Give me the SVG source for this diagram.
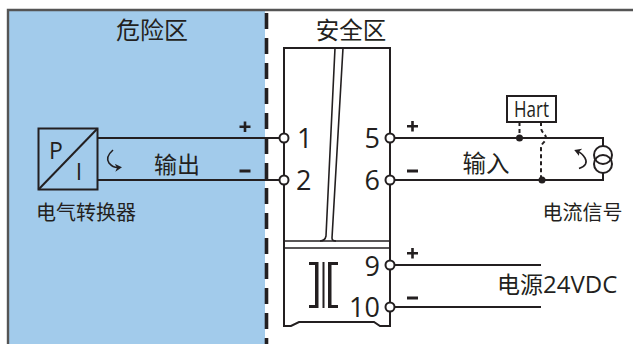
<svg xmlns="http://www.w3.org/2000/svg" width="633" height="344" viewBox="0 0 633 344">
<style>
.l{fill:none;stroke:#231f20;stroke-width:2}
.m{fill:none;stroke:#231f20;stroke-width:1.6}
.t{fill:#231f20;font-family:"Open Sans","Noto Sans CJK SC",sans-serif}
.c{font-family:"Noto Sans CJK SC",sans-serif;fill:#231f20;font-weight:400}
.term{fill:#fff;stroke:#231f20;stroke-width:2}
.dot{fill:#231f20}
.d{fill:none;stroke:#231f20;stroke-width:2;stroke-dasharray:4 3}
</style>
<defs><marker id="a" markerUnits="userSpaceOnUse" markerWidth="9" markerHeight="9" refX="4" refY="4" orient="auto"><path d="M0 0L7 4L0 8L2 4Z" fill="#231f20"/></marker></defs>
<rect width="633" height="344" fill="#fff"/>
<g id="hazard-zone">
<rect x="8" y="10" width="257" height="334" fill="#a2cbeb"/>
<path d="M8 344V10H633" fill="none" stroke="#555" stroke-width="2.4"/>
<text class="c" x="152" y="39" font-size="24" text-anchor="middle">危险区</text>
</g>
<g id="safe-zone"><text class="c" x="351" y="39" font-size="23.500" text-anchor="middle">安全区</text></g>
<path id="divider" d="M266.500 13V344" fill="none" stroke="#231f20" stroke-width="3.6" stroke-dasharray="16 9"/>
<g id="connectors">
<path class="l" d="M97 138H284M97 180H284M390 138H603V146M390 180H603V172M390 265H541M390 307H541"/>
<path class="d" d="M519.500 122V138M541 122V127C541 133 546 134 546 138C546 142 541 143 541 148V180"/>
</g>
<g id="module">
<path class="l" d="M284 48H390V326L380 326L374 322H299L291 326H284Z"/>
<path class="m" d="M284 241H390M284 248H390"/>
<path class="m" d="M335 48L326 236Q325 241 320 241M343 48L332 238Q332 241 336 241"/>
<g fill="#231f20"><path d="M309 262H318.500V308H309V305H315V265H309Z"/><rect x="322.500" y="262" width="2" height="46"/><path d="M338 262H328V308H338V305H331.500V265H338Z"/></g>
<text class="t" x="297" y="148" font-size="27">1</text>
<text class="t" x="296" y="190" font-size="27">2</text>
<text class="t" x="380" y="148" font-size="27" text-anchor="end">5</text>
<text class="t" x="380" y="190" font-size="27" text-anchor="end">6</text>
<text class="t" x="380" y="276" font-size="27" text-anchor="end">9</text>
<text class="t" x="380" y="317" font-size="27" text-anchor="end">10</text>
<circle class="term" cx="284" cy="138" r="4.500"/><circle class="term" cx="284" cy="180" r="4.500"/>
<circle class="term" cx="390" cy="138" r="4.500"/><circle class="term" cx="390" cy="180" r="4.500"/>
<circle class="term" cx="390" cy="265" r="4.500"/><circle class="term" cx="390" cy="307" r="4.500"/>
</g>
<g id="pi-converter">
<rect class="l" x="38.500" y="128.500" width="59" height="61"/>
<path class="l" d="M38.500 189.500L97.500 128.500"/>
<text class="t" x="49" y="159" font-size="23">P</text>
<text class="t" x="79" y="180" font-size="23" text-anchor="middle">I</text>
<path class="m" d="M113 150Q105 157 109 163Q113 168 119 167.500" marker-end="url(#a)"/>
<text class="c" x="177" y="173" font-size="23" text-anchor="middle">输出</text>
<text class="c" x="36" y="220" font-size="20">电气转换器</text>
</g>
<g id="polarity" fill="#231f20">
<path d="M239.500 125.500H250.500V128H239.500ZM243.700 121.500H246.300V132H243.700ZM239.500 169.500H250.500V172.500H239.500Z"/>
<path d="M407 125H418V127.500H407ZM411.200 121H413.800V131.500H411.200ZM407 169.500H418V172.500H407Z"/>
<path d="M407 252H418V254.500H407ZM411.200 248H413.800V258.500H411.200ZM407 296.500H418V299.500H407Z"/>
</g>
<g id="hart">
<rect class="l" x="507" y="96" width="49" height="26" fill="#fff"/>
<text x="514" y="116.500" font-size="21" textLength="35" lengthAdjust="spacingAndGlyphs" font-family="Open Sans,sans-serif" fill="#231f20">Hart</text>
<circle class="dot" cx="519.500" cy="138" r="3.500"/><circle class="dot" cx="542" cy="180" r="3.500"/>
</g>
<g id="current-source">
<circle class="l" cx="603" cy="155" r="9"/><circle class="l" cx="603" cy="164" r="9"/>
<path class="m" d="M579 168.500Q589 165 585 158Q582 153 577 151" marker-end="url(#a)"/>
<text class="c" x="486" y="172" font-size="23.500" text-anchor="middle">输入</text>
<text class="c" x="582.500" y="220" font-size="20" text-anchor="middle">电流信号</text>
</g>
<g id="power"><text class="c" x="497" y="293" font-size="23">电源</text><text class="t" x="543" y="293" font-size="24">24VDC</text></g>
</svg>
